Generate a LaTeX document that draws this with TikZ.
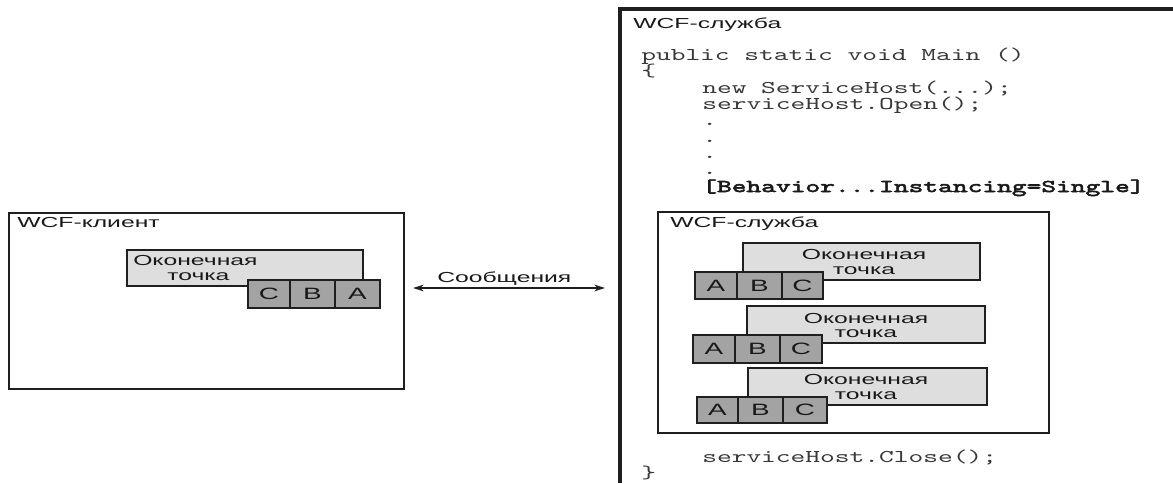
\documentclass[tikz,border=0pt]{standalone}
\usepackage{fontspec}
\usetikzlibrary{fit,arrows.meta}
\newfontfamily\lsans{Liberation Sans}[FakeStretch=1.7]
\newfontfamily\codefont{lmmono10-regular}[Extension=.otf, FakeStretch=1.56]
\newfontfamily\codebold{lmmono10-regular}[Extension=.otf, FakeStretch=1.56, FakeBold=3]
\begin{document}
\begin{tikzpicture}[x=0.75pt,y=-0.75pt,
  lbl/.style={font=\lsans\fontsize{10.9}{13}\selectfont, anchor=base west, inner sep=0, text=black!90},
  ctr/.style={lbl, anchor=base},
  celltxt/.style={font=\lsans\fontsize{12.3}{14}\selectfont, anchor=center, inner sep=0, text=black!90},
  code/.style={font=\codefont\fontsize{13.5}{16}\selectfont, anchor=base west, inner sep=0, text=black!78},
  bcode/.style={code, font=\codebold\fontsize{13.5}{16}\selectfont, text=black!90},
  frame/.style={draw=black!88, line width=2pt, inner sep=0},
  ep/.style={frame, fill=black!13},
  cell/.style={frame, fill=black!36},
  msg/.style={{Stealth[length=8pt,width=5pt]}-{Stealth[length=8pt,width=5pt]}, line width=1.2pt, draw=black!88}]
\useasboundingbox (0,0) rectangle (1173,483);
\fill[white] (0,0) rectangle (1173,483);

% ---------- client ----------
\node[frame, fit={(9,213) (404,389)}] (client) {};
\node[lbl] (clientT) at (17,227) {WCF-клиент};
\node[ep, fit={(127,250) (363,286)}] (cep) {};
\node[lbl] (cepT1) at (133,265) {Оконечная};
\node[lbl] (cepT2) at (167,280) {точка};
\node[cell, fit={(248,280) (290,308)}] (cC) {};
\node[cell, fit={(290,280) (335,308)}] (cB) {};
\node[cell, fit={(335,280) (380,308)}] (cA) {};
\node[celltxt] (cCt) at (cC.center) {C};
\node[celltxt] (cBt) at (cB.center) {B};
\node[celltxt] (cAt) at (cA.center) {A};

% ---------- message arrow ----------
\coordinate (ml) at (413,288);
\coordinate (mr) at (605,288);
\draw[msg] (ml) -- (mr);
\node[lbl] (msgT) at (437,282) {Сообщения};

% ---------- outer service ----------
\coordinate (sb) at (620,483);
\coordinate (stl) at (620,9);
\coordinate (sr) at (1173,9);
\draw[draw=black!88, line width=2.6pt] (sb) -- (stl) -- (sr);
\node[lbl] (svcT) at (633,28) {WCF-служба};
\node[code] (c1) at (641,60) {public static void Main ()};
\node[code] (c2) at (641,76) {\{};
\node[code] (c3) at (702,93) {new ServiceHost(...);};
\node[code] (c4) at (702,109) {serviceHost.Open();};
\node[code] (d1) at (702,125) {.};
\node[code] (d2) at (702,142) {.};
\node[code] (d3) at (702,158) {.};
\node[code] (d4) at (702,174) {.};
\node[bcode] (c5) at (702,192) {[Behavior...Instancing=Single]};
\node[code] (c6) at (702,462) {serviceHost.Close();};
\node[code] (c7) at (641,478) {\}};

% ---------- inner service ----------
\node[frame, fit={(658,212) (1049,433)}] (inner) {};
\node[lbl] (innerT) at (670,227) {WCF-служба};

% endpoint 1
\node[ep, fit={(743,243) (980,280)}] (e1) {};
\node[ctr] (e1T1) at (864,259) {Оконечная};
\node[ctr] (e1T2) at (864,274) {точка};
\node[cell, fit={(695,272) (737,299)}] (e1A) {};
\node[cell, fit={(737,272) (782,299)}] (e1B) {};
\node[cell, fit={(782,272) (823,299)}] (e1C) {};
\node[celltxt] (e1At) at (e1A.center) {A};
\node[celltxt] (e1Bt) at (e1B.center) {B};
\node[celltxt] (e1Ct) at (e1C.center) {C};

% endpoint 2
\node[ep, fit={(747,306) (985,343)}] (e2) {};
\node[ctr] (e2T1) at (866,323) {Оконечная};
\node[ctr] (e2T2) at (866,337) {точка};
\node[cell, fit={(693,335) (735,363)}] (e2A) {};
\node[cell, fit={(735,335) (780,363)}] (e2B) {};
\node[cell, fit={(780,335) (822,363)}] (e2C) {};
\node[celltxt] (e2At) at (e2A.center) {A};
\node[celltxt] (e2Bt) at (e2B.center) {B};
\node[celltxt] (e2Ct) at (e2C.center) {C};

% endpoint 3
\node[ep, fit={(748,368) (987,405)}] (e3) {};
\node[ctr] (e3T1) at (866,384) {Оконечная};
\node[ctr] (e3T2) at (866,399) {точка};
\node[cell, fit={(697,397) (738,423)}] (e3A) {};
\node[cell, fit={(738,397) (783,423)}] (e3B) {};
\node[cell, fit={(783,397) (827,423)}] (e3C) {};
\node[celltxt] (e3At) at (e3A.center) {A};
\node[celltxt] (e3Bt) at (e3B.center) {B};
\node[celltxt] (e3Ct) at (e3C.center) {C};
\end{tikzpicture}
\end{document}
